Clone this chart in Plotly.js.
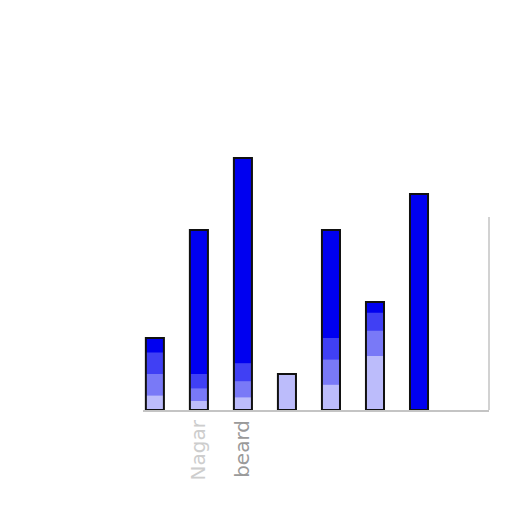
<!DOCTYPE html>
<html>
<head>
<meta charset="utf-8">
<script src="https://cdn.plot.ly/plotly-3.0.1.min.js"></script>
<style>
  html, body { margin: 0; padding: 0; background: #fff; }
  #chart { width: 512px; height: 512px; }
</style>
</head>
<body>
<div id="chart"></div>
<script>
// bar data
const positions = [0, 1, 2, 3, 4, 5, 6];
const values = [2, 5, 7, 1, 5, 3, 6];
const tickLabels = [
  "",
  '<span style="fill:#cdcdcd">Nagar</span>',
  '<span style="fill:#9a9a9a">beard</span>',
  "", "", "", ""
];
// washed-out lower part of each bar, in three layers for a soft fade
const fadeA = [1.6, 1.0, 1.3, 1, 2.0, 2.7, 0];
const fadeB = [1.0, 0.6, 0.8, 1, 1.4, 2.2, 0];
const fadeC = [0.4, 0.25, 0.35, 1, 0.7, 1.5, 0];
// height of the thin grey line at the right edge
const rightLineTop = 5.36;

const barWidth = 0.41;

function layer(y, color, line) {
  return {
    type: "bar",
    x: positions,
    y: y,
    width: barWidth,
    marker: { color: color, line: line || { width: 0 } },
    hoverinfo: "skip",
  };
}

const traces = [
  layer(values, "#0000f0"),
  layer(fadeA, "rgba(255,255,255,0.25)"),
  layer(fadeB, "rgba(255,255,255,0.3)"),
  layer(fadeC, "rgba(255,255,255,0.5)"),
  layer(values, "rgba(0,0,0,0)", { color: "#111", width: 2 }),
];

const layout = {
  width: 512,
  height: 512,
  barmode: "overlay",
  showlegend: false,
  margin: { l: 143, r: 23, t: 122, b: 102, pad: 0 },
  paper_bgcolor: "white",
  plot_bgcolor: "white",
  font: { family: "DejaVu Sans, sans-serif", color: "#a0a0a0" },
  xaxis: {
    range: [-0.27, 7.59],
    tickvals: positions,
    ticktext: tickLabels,
    tickangle: -90,
    tickfont: { size: 20 },
    ticks: "",
    showgrid: false,
    zeroline: false,
    showline: true,
    linecolor: "#c4c4c4",
    linewidth: 2,
  },
  yaxis: {
    range: [0, 8],
    showgrid: false,
    zeroline: false,
    showline: false,
    showticklabels: false,
    ticks: "",
  },
  shapes: [
    {
      type: "line",
      xref: "paper",
      yref: "y",
      x0: 1, x1: 1,
      y0: 0, y1: rightLineTop,
      line: { color: "#d2d2d2", width: 2 },
    },
  ],
};

const config = { displayModeBar: false, staticPlot: true };

Plotly.newPlot("chart", traces, layout, config);
</script>
</body>
</html>
